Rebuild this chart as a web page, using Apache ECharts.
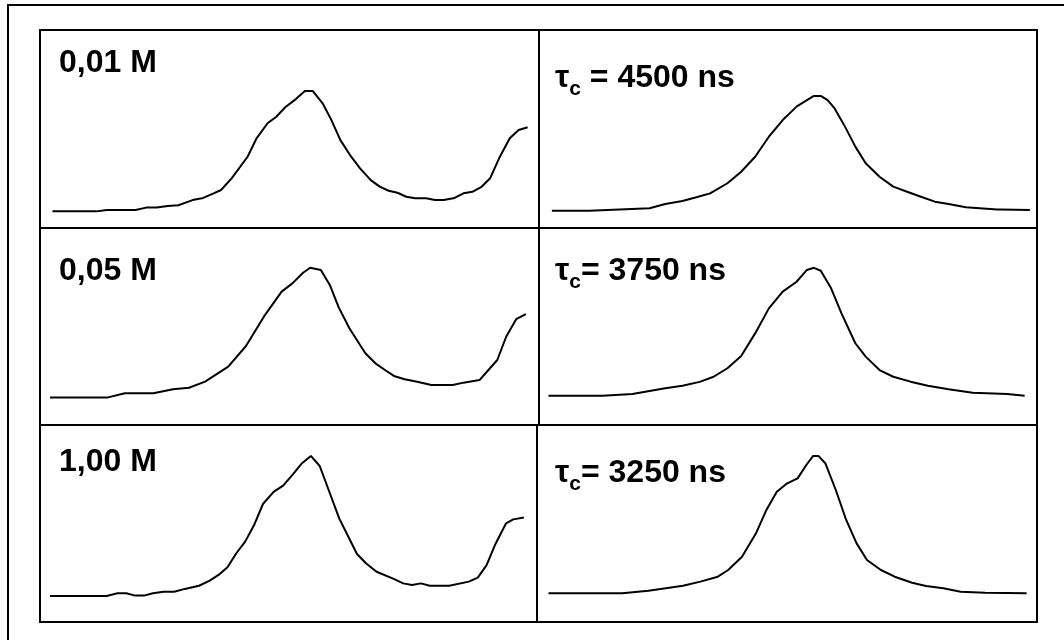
<!DOCTYPE html>
<html>
<head>
<meta charset="utf-8">
<script src="https://cdn.jsdelivr.net/npm/echarts@6/dist/echarts.min.js"></script>
<style>
  html, body { margin: 0; padding: 0; background: #fff; }
  #chart { width: 1064px; height: 640px; }
</style>
</head>
<body>
<div id="chart"></div>
<script>
// measured spectra, left column: [field channel, intensity %]
const spectrum001 = [[12.5,8.4],[56.4,8.4],[67,9.1],[95.7,9.1],[106.4,10.3],[117,10.3],[128,11.1],[138.6,11.5],[152.9,14.1],[163.6,15.2],[174,17.5],[181.4,19.2],[192,25.1],[208,36.0],[217,45.3],[228,52.9],[236.8,56.2],[245.7,61.0],[256.4,65.1],[265.4,69.2],[273.2,69.2],[283.2,63.0],[292,54.5],[301,44.4],[311.8,36.0],[320.7,30.1],[331.4,24.2],[340.4,20.9],[349.3,18.8],[358.2,17.8],[367,15.8],[376,15.0],[386.8,15.0],[395.7,14.1],[404.6,14.1],[415.4,15.2],[424.3,17.5],[433.2,18.3],[442,20.6],[451,25.1],[460,35.2],[470.7,45.3],[479.6,49.5],[488.6,50.9]]
const spectrum005 = [[10,13.9],[67.1,13.9],[85,16.1],[113.6,16.1],[133.2,18.1],[149.3,18.9],[165.4,22.0],[188.6,29.6],[206.4,40.1],[224.3,55.0],[242.1,67.7],[252.9,71.9],[263.6,77.3],[270.7,79.8],[281.4,78.7],[290.4,71.1],[299.3,59.7],[310,49.1],[326,36.4],[336.8,31.0],[345.7,27.9],[354.6,24.9],[365.4,23.2],[377.9,22.0],[392.1,20.3],[413.6,20.3],[424.3,21.5],[440.4,22.8],[449.3,27.9],[458.2,33.0],[467.1,44.8],[477.1,53.7],[486.8,56.3]]
const spectrum100 = [[10,13.2],[67.1,13.2],[77.9,14.6],[86.8,14.6],[95.7,13.4],[104.6,13.4],[113.6,14.6],[124.3,15.4],[135,15.4],[145.7,16.8],[160,18.4],[170.7,21.0],[179.6,23.9],[188.6,27.8],[197.5,34.9],[206.4,40.8],[215.4,49.2],[224.3,59.9],[235,66.1],[244.6,69.2],[254.6,75.1],[263.6,80.6],[272.5,84.3],[281.4,79.2],[290.4,67.0],[301,52.6],[318.9,34.5],[327.9,29.8],[338.6,25.5],[356.4,21.8],[365.4,19.6],[374.3,18.8],[383.2,19.6],[392.1,18.4],[411.8,18.4],[431.4,20.5],[440.4,22.5],[449.3,28.9],[458.2,39.6],[468.9,50.1],[476.1,52.1],[486.8,53.1]]

// simulated spectra, right column
const sim4500 = [[12.9,8.7],[50.4,8.7],[50.4,9.4],[81,9.4],[81,10.0],[111,10.0],[111,10.8],[126.7,12.1],[144,13.6],[158,15.5],[171.8,17.5],[189.2,22.6],[203,28.4],[217,36.0],[230.8,46.1],[244.7,54.5],[258.6,61.3],[269,64.6],[276,66.7],[282.9,66.7],[289.8,64.6],[296.8,60.4],[307.2,51.2],[317.6,41.1],[328,32.7],[341.9,25.9],[355.7,20.9],[369.6,18.3],[383.5,15.8],[397.4,13.3],[411.2,12.1],[428.6,10.5],[459.8,9.4],[463,9.4],[463,9.1],[492.8,9.1]]
const sim3750 = [[9.5,14.9],[63.6,14.9],[63.6,15.7],[93.8,15.7],[93.8,16.4],[126.7,18.6],[144,19.9],[161.4,21.9],[175.3,24.5],[189.2,28.8],[203,35.0],[217,46.5],[230.8,59.2],[244.7,67.7],[258.6,72.7],[269,78.7],[276,79.8],[282.9,78.3],[293.3,69.4],[303.7,56.7],[317.6,41.5],[328,34.7],[341.9,27.9],[355.7,24.5],[373.1,22.0],[390.4,19.9],[411.2,18.1],[435.5,16.4],[470.2,15.7],[472,15.7],[472,14.9],[487.6,14.9]]
const sim3250 = [[11.5,14.6],[85.4,14.6],[85.4,15.4],[111.4,15.9],[128.7,17.1],[146,18.4],[163.4,20.5],[180.8,23.0],[191.2,26.4],[205,33.1],[219,45.0],[229.4,56.9],[239.8,66.1],[250.2,70.4],[260.6,72.9],[269.3,79.7],[276.2,84.3],[281.4,84.3],[288.3,80.6],[298.8,67.0],[309.2,51.8],[319.6,39.9],[330,31.5],[343.9,26.4],[357.7,23.0],[375.1,19.9],[389,18.3],[406.3,17.1],[423.7,15.4],[448,14.9],[449.7,14.6],[489.6,14.6]]

const concLabels = ['0,01 M', '0,05 M', '1,00 M']
const tauLabels = [' = 4500 ns', '= 3750 ns', '= 3250 ns']

// panel frame geometry
const rows = [
  { top: 30, height: 198, split: 539, labelTop: 43, tauTop: 58 },
  { top: 228, height: 197, split: 539, labelTop: 251, tauTop: 251 },
  { top: 425, height: 197, split: 537, labelTop: 442, tauTop: 453 },
]
const frameLeft = 40
const frameRight = 1037
const font = '"Liberation Sans", Arial, sans-serif'

const measured = [spectrum001, spectrum005, spectrum100]
const simulated = [sim4500, sim3750, sim3250]

const grid = []
const xAxis = []
const yAxis = []
const series = []
const title = []

rows.forEach((row, i) => {
  const panels = [
    { left: frameLeft, width: row.split - frameLeft, data: measured[i] },
    { left: row.split, width: frameRight - row.split, data: simulated[i] },
  ]
  panels.forEach((p) => {
    const k = grid.length
    grid.push({
      left: p.left, top: row.top, width: p.width, height: row.height,
      show: true, borderColor: '#000', borderWidth: 2,
    })
    xAxis.push({ type: 'value', gridIndex: k, min: 0, max: 500, show: false })
    yAxis.push({ type: 'value', gridIndex: k, min: 0, max: 100, show: false })
    series.push({
      type: 'line', xAxisIndex: k, yAxisIndex: k,
      data: p.data, showSymbol: false, symbol: 'none',
      lineStyle: { color: '#000', width: 2 },
    })
  })
  const rich = {
    t: { fontFamily: font, fontWeight: 'bold', fontSize: 32, lineHeight: 40, color: '#000' },
    s: { fontFamily: font, fontWeight: 'bold', fontSize: 21, lineHeight: 40, color: '#000', padding: [23, 0, 0, 0] },
  }
  title.push({
    text: '{t|' + concLabels[i] + '}', left: 59, top: row.labelTop, padding: 0,
    textStyle: { rich },
  })
  title.push({
    text: '{t|τ}{s|c}{t|' + tauLabels[i] + '}', left: 555, top: row.tauTop, padding: 0,
    textStyle: { rich },
  })
})

const chart = echarts.init(document.getElementById('chart'), null, { renderer: 'canvas' })
chart.setOption({
  animation: false,
  backgroundColor: '#fff',
  title,
  grid,
  xAxis,
  yAxis,
  series,
  graphic: [{
    type: 'rect', z: 100, silent: true,
    shape: { x: 8, y: 5, width: 1080, height: 660 },
    style: { fill: 'none', stroke: '#000', lineWidth: 2 },
  }],
})
</script>
</body>
</html>
